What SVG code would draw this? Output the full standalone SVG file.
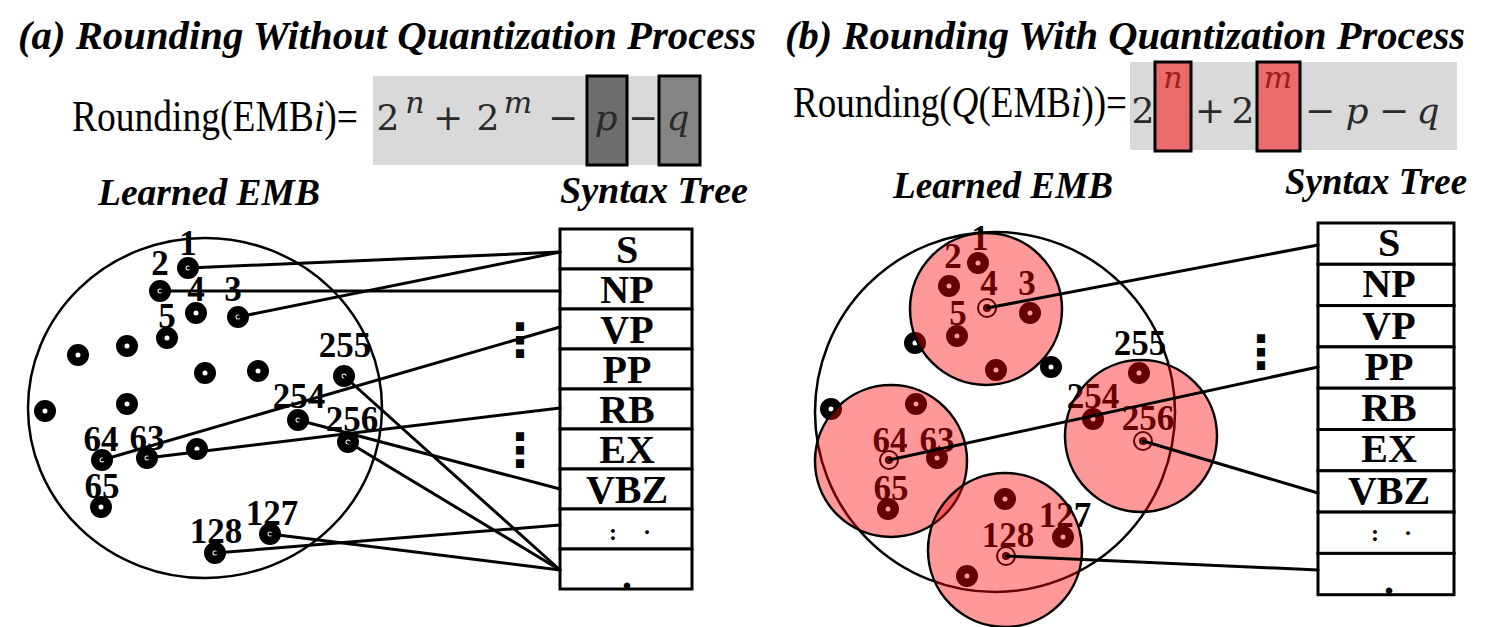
<svg xmlns="http://www.w3.org/2000/svg" xmlns:xlink="http://www.w3.org/1999/xlink" width="1505" height="627" viewBox="0 0 1505 627">
<style>
.ttl{font-family:"Liberation Serif",serif;font-weight:bold;font-style:italic;font-size:41px;fill:#000}
.hd{font-family:"Liberation Serif",serif;font-weight:bold;font-style:italic;font-size:38px;fill:#000}
.fm{font-family:"Liberation Serif",serif;font-size:44px;fill:#000}
.mt{font-family:"DejaVu Serif",serif;font-size:36px;fill:#2a2a2a}
.mi{font-family:"DejaVu Serif",serif;font-style:italic;font-size:36px;fill:#2a2a2a}
.sup{font-family:"DejaVu Serif",serif;font-style:italic;font-size:30px;fill:#2a2a2a}
.supr{font-family:"DejaVu Serif",serif;font-style:italic;font-size:30px;fill:#9e1c1c}
.lbl{font-family:"Liberation Serif",serif;font-weight:bold;font-size:35px;text-anchor:middle;fill:#000}
.sm{font-family:"Liberation Serif",serif;font-weight:bold;font-size:24px;text-anchor:middle;fill:#000}
.row{font-family:"Liberation Serif",serif;font-weight:bold;font-size:40px;text-anchor:middle;fill:#000}
.cell{fill:#fff;stroke:#000;stroke-width:3}
.dot{fill:#fff;stroke:#000;stroke-width:8.5}
.big{fill:none;stroke:#000;stroke-width:2.5}
.con{stroke:#000;stroke-width:3;fill:none;stroke-linecap:round}
.cl{fill:#ff0000;fill-opacity:0.4;stroke:#000;stroke-width:2.5}
.ell{font-family:"DejaVu Sans",sans-serif;font-weight:bold;font-size:46px;text-anchor:middle;fill:#000}
</style>
<defs>
<circle id="d" r="6.75" class="dot"/>
<g id="mk"><circle r="9" fill="none" stroke="#000" stroke-width="2"/><circle r="4" fill="#000"/><circle r="1.5" fill="#fff"/></g>
</defs>
<rect width="1505" height="627" fill="#fff"/>

<!-- ===== Panel (a) ===== -->
<text class="ttl" x="18" y="49" textLength="738" lengthAdjust="spacingAndGlyphs">(a) Rounding Without Quantization Process</text>
<g id="a-formula">
<text class="fm" x="72" y="131" textLength="286" lengthAdjust="spacingAndGlyphs">Rounding(EMB<tspan font-style="italic">i</tspan>)=</text>
<rect x="373" y="76" width="327" height="89" fill="#d9d9d9"/>
<rect x="587" y="76" width="40" height="89" fill="#6e6e6e" stroke="#000" stroke-width="3"/>
<rect x="659" y="76" width="41" height="89" fill="#858585" stroke="#000" stroke-width="3"/>
<text class="mt" x="388" y="130" text-anchor="middle">2</text>
<text class="sup" x="415" y="113" text-anchor="middle">n</text>
<text class="mt" x="448" y="130" text-anchor="middle">+</text>
<text class="mt" x="488" y="130" text-anchor="middle">2</text>
<text class="sup" x="518" y="113" text-anchor="middle">m</text>
<text class="mt" x="563" y="130" text-anchor="middle">−</text>
<text class="mi" x="606" y="130" text-anchor="middle">p</text>
<text class="mt" x="643" y="130" text-anchor="middle">−</text>
<text class="mi" x="678" y="130" text-anchor="middle">q</text>
</g>
<text class="hd" x="98" y="205" textLength="222" lengthAdjust="spacingAndGlyphs">Learned EMB</text>
<text class="hd" x="560" y="203" textLength="188" lengthAdjust="spacingAndGlyphs">Syntax Tree</text>

<ellipse id="a-emb" class="big" cx="205" cy="408" rx="177" ry="170"/>

<g id="a-nodes">
<g id="a-n1"><use xlink:href="#d" x="188" y="268"/><text class="lbl" x="188" y="255">1</text></g>
<g id="a-n2"><use xlink:href="#d" x="160" y="291"/><text class="lbl" x="160" y="275">2</text></g>
<g id="a-n4"><use xlink:href="#d" x="196" y="313"/><text class="lbl" x="196" y="301">4</text></g>
<g id="a-n3"><use xlink:href="#d" x="238" y="317"/><text class="lbl" x="233" y="301">3</text></g>
<g id="a-n5"><use xlink:href="#d" x="167" y="338"/><text class="lbl" x="167" y="328">5</text></g>
<g id="a-d1"><use xlink:href="#d" x="78" y="355"/></g>
<g id="a-d2"><use xlink:href="#d" x="127" y="346"/></g>
<g id="a-d3"><use xlink:href="#d" x="205" y="373"/></g>
<g id="a-d4"><use xlink:href="#d" x="258" y="371"/></g>
<g id="a-n255"><use xlink:href="#d" x="344" y="376"/><text class="lbl" x="345" y="357">255</text></g>
<g id="a-d5"><use xlink:href="#d" x="127" y="404"/></g>
<g id="a-d6"><use xlink:href="#d" x="45" y="411"/></g>
<g id="a-n254"><use xlink:href="#d" x="298" y="420"/><text class="lbl" x="299" y="408">254</text></g>
<g id="a-n256"><use xlink:href="#d" x="348" y="442"/><text class="lbl" x="352" y="431">256</text></g>
<g id="a-n64"><use xlink:href="#d" x="102" y="460"/><text class="lbl" x="101" y="451">64</text></g>
<g id="a-n63"><use xlink:href="#d" x="147" y="458"/><text class="lbl" x="147" y="450">63</text></g>
<g id="a-d7"><use xlink:href="#d" x="197" y="449"/></g>
<g id="a-n65"><use xlink:href="#d" x="101" y="507"/><text class="lbl" x="102" y="498">65</text></g>
<g id="a-n128"><use xlink:href="#d" x="215" y="553"/><text class="lbl" x="216" y="543">128</text></g>
<g id="a-n127"><use xlink:href="#d" x="270" y="534"/><text class="lbl" x="272" y="525">127</text></g>
</g>

<g id="a-tree">
<g id="a-row-S"><rect class="cell" x="560" y="229" width="132" height="40"/><text class="row" x="627" y="263">S</text></g>
<g id="a-row-NP"><rect class="cell" x="560" y="269" width="132" height="40"/><text class="row" x="627" y="303">NP</text></g>
<g id="a-row-VP"><rect class="cell" x="560" y="309" width="132" height="40"/><text class="row" x="627" y="343">VP</text></g>
<g id="a-row-PP"><rect class="cell" x="560" y="349" width="132" height="40"/><text class="row" x="627" y="383">PP</text></g>
<g id="a-row-RB"><rect class="cell" x="560" y="389" width="132" height="40"/><text class="row" x="627" y="423">RB</text></g>
<g id="a-row-EX"><rect class="cell" x="560" y="429" width="132" height="40"/><text class="row" x="627" y="463">EX</text></g>
<g id="a-row-VBZ"><rect class="cell" x="560" y="469" width="132" height="40"/><text class="row" x="627" y="503">VBZ</text></g>
<g id="a-row-dots"><rect class="cell" x="560" y="509" width="132" height="40"/><text class="sm" y="540"><tspan x="613">:</tspan><tspan x="647">·</tspan></text></g>
<g id="a-row-end"><rect class="cell" x="560" y="549" width="132" height="40"/><text class="row" x="627" y="589">.</text></g>
</g>
<text class="ell" x="520" y="356">⋮</text>
<text class="ell" x="520" y="466">⋮</text>

<g id="a-connectors">
<path class="con" d="M188,268 L560,252"/>
<path class="con" d="M238,317 L560,252"/>
<path class="con" d="M160,291 L560,291"/>
<path class="con" d="M102,460 L560,327"/>
<path class="con" d="M147,458 L560,408"/>
<path class="con" d="M298,420 L560,489"/>
<path class="con" d="M344,376 L560,570"/>
<path class="con" d="M348,442 L560,570"/>
<path class="con" d="M270,534 L560,570"/>
<path class="con" d="M215,553 L560,525"/>
</g>

<!-- ===== Panel (b) ===== -->
<text class="ttl" x="785" y="49" textLength="680" lengthAdjust="spacingAndGlyphs">(b) Rounding With Quantization Process</text>
<g id="b-formula">
<text class="fm" x="793" y="117" textLength="334" lengthAdjust="spacingAndGlyphs">Rounding(<tspan font-style="italic">Q</tspan>(EMB<tspan font-style="italic">i</tspan>))=</text>
<rect x="1130" y="62" width="327" height="88" fill="#d9d9d9"/>
<rect x="1155" y="62" width="36" height="89" fill="#ea6b6b" stroke="#000" stroke-width="3"/>
<rect x="1257" y="62" width="43" height="89" fill="#ea6b6b" stroke="#000" stroke-width="3"/>
<text class="mt" x="1143" y="123" text-anchor="middle">2</text>
<text class="supr" x="1173" y="88" text-anchor="middle">n</text>
<text class="mt" x="1210" y="123" text-anchor="middle">+</text>
<text class="mt" x="1243" y="123" text-anchor="middle">2</text>
<text class="supr" x="1278" y="88" text-anchor="middle">m</text>
<text class="mt" x="1320" y="123" text-anchor="middle">−</text>
<text class="mi" x="1357" y="123" text-anchor="middle">p</text>
<text class="mt" x="1394" y="123" text-anchor="middle">−</text>
<text class="mi" x="1428" y="123" text-anchor="middle">q</text>
</g>
<text class="hd" x="893" y="198" textLength="220" lengthAdjust="spacingAndGlyphs">Learned EMB</text>
<text class="hd" x="1285" y="194" textLength="182" lengthAdjust="spacingAndGlyphs">Syntax Tree</text>

<circle id="b-emb" class="big" cx="995" cy="412" r="180"/>

<g id="b-nodes">
<g id="b-n1"><use xlink:href="#d" x="978" y="263"/><text class="lbl" x="980" y="250">1</text></g>
<g id="b-n2"><use xlink:href="#d" x="949" y="286"/><text class="lbl" x="953" y="268">2</text></g>
<g id="b-n4"><use xlink:href="#mk" x="987" y="308"/><text class="lbl" x="989" y="295">4</text></g>
<g id="b-n3"><use xlink:href="#d" x="1030" y="313"/><text class="lbl" x="1027" y="295">3</text></g>
<g id="b-n5"><use xlink:href="#d" x="957" y="336"/><text class="lbl" x="958" y="325">5</text></g>
<g id="b-d1"><use xlink:href="#d" x="996" y="370"/></g>
<g id="b-d2"><use xlink:href="#d" x="915" y="343"/></g>
<g id="b-d3"><use xlink:href="#d" x="1051" y="367"/></g>
<g id="b-d4"><use xlink:href="#d" x="831" y="409"/></g>
<g id="b-d5"><use xlink:href="#d" x="916" y="404"/></g>
<g id="b-n64"><use xlink:href="#mk" x="889" y="460"/><text class="lbl" x="890" y="452">64</text></g>
<g id="b-n63"><use xlink:href="#d" x="937" y="458"/><text class="lbl" x="937" y="452">63</text></g>
<g id="b-n65"><use xlink:href="#d" x="888" y="509"/><text class="lbl" x="891" y="500">65</text></g>
<g id="b-d6"><use xlink:href="#d" x="1005" y="499"/></g>
<g id="b-n128"><use xlink:href="#mk" x="1006" y="556"/><text class="lbl" x="1008" y="547">128</text></g>
<g id="b-n127"><use xlink:href="#d" x="1063" y="537"/><text class="lbl" x="1065" y="527">127</text></g>
<g id="b-d7"><use xlink:href="#d" x="967" y="576"/></g>
<g id="b-n255"><use xlink:href="#d" x="1139" y="373"/><text class="lbl" x="1140" y="355">255</text></g>
<g id="b-n254"><use xlink:href="#d" x="1093" y="419"/><text class="lbl" x="1093" y="408">254</text></g>
<g id="b-n256"><use xlink:href="#mk" x="1143" y="441"/><text class="lbl" x="1148" y="430">256</text></g>
</g>

<g id="b-clusters">
<circle id="b-cl-top" class="cl" cx="986" cy="309" r="76"/>
<circle id="b-cl-left" class="cl" cx="891" cy="461" r="76"/>
<circle id="b-cl-right" class="cl" cx="1141" cy="436" r="76"/>
<circle id="b-cl-bottom" class="cl" cx="1005" cy="550" r="77"/>
</g>

<g id="b-tree">
<g id="b-row-S"><rect class="cell" x="1318" y="223" width="136" height="41.3"/><text class="row" x="1389" y="256">S</text></g>
<g id="b-row-NP"><rect class="cell" x="1318" y="264.3" width="136" height="41.3"/><text class="row" x="1389" y="297">NP</text></g>
<g id="b-row-VP"><rect class="cell" x="1318" y="305.6" width="136" height="41.3"/><text class="row" x="1389" y="339">VP</text></g>
<g id="b-row-PP"><rect class="cell" x="1318" y="346.9" width="136" height="41.3"/><text class="row" x="1389" y="380">PP</text></g>
<g id="b-row-RB"><rect class="cell" x="1318" y="388.2" width="136" height="41.3"/><text class="row" x="1389" y="421">RB</text></g>
<g id="b-row-EX"><rect class="cell" x="1318" y="429.5" width="136" height="41.3"/><text class="row" x="1389" y="462">EX</text></g>
<g id="b-row-VBZ"><rect class="cell" x="1318" y="470.8" width="136" height="41.3"/><text class="row" x="1389" y="504">VBZ</text></g>
<g id="b-row-dots"><rect class="cell" x="1318" y="512.1" width="136" height="41.3"/><text class="sm" y="541"><tspan x="1375">:</tspan><tspan x="1408">·</tspan></text></g>
<g id="b-row-end"><rect class="cell" x="1318" y="553.4" width="136" height="41.3"/><text class="row" x="1389" y="594">.</text></g>
</g>
<text class="ell" x="1261" y="368">⋮</text>

<g id="b-connectors">
<path class="con" d="M987,308 L1318,245"/>
<path class="con" d="M889,460 L1318,367"/>
<path class="con" d="M1143,441 L1318,493"/>
<path class="con" d="M1006,556 L1318,570"/>
</g>
</svg>
